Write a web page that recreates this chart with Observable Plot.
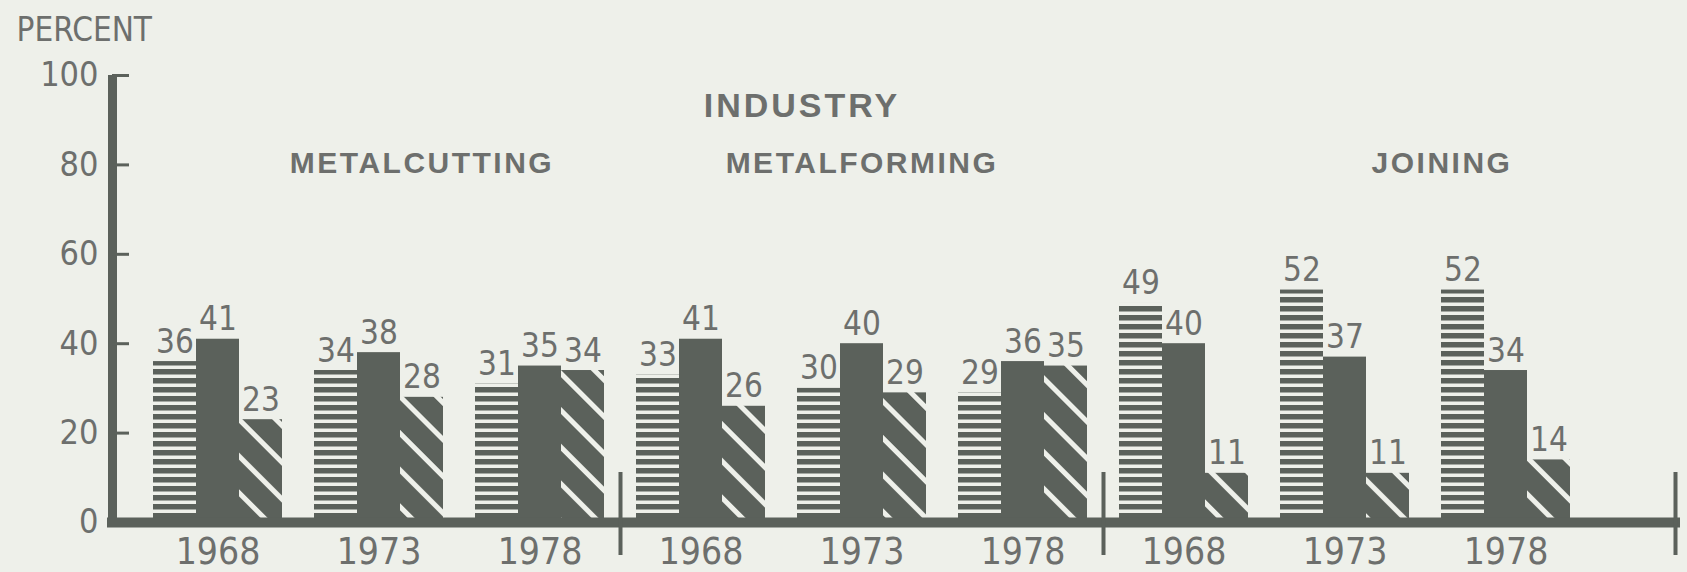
<!DOCTYPE html>
<html>
<head>
<meta charset="utf-8">
<script src="https://cdn.jsdelivr.net/npm/d3@7"></script>
<script src="https://cdn.jsdelivr.net/npm/@observablehq/plot@0.6"></script>
<style>
  html, body { margin: 0; padding: 0; background: #eef0ea; }
  #chart svg { display: block; }
</style>
</head>
<body>
<div id="chart"></div>
<script>
// ---- data ----
const industries = ["METALCUTTING", "METALFORMING", "JOINING"];
const years = ["1968", "1973", "1978"];
const seriesKeys = ["striped", "solid", "hatched"];
// values listed industry by industry, year by year
const valuesStriped = [36, 34, 31, 33, 30, 29, 49, 52, 52];
const valuesSolid   = [41, 38, 35, 41, 40, 36, 40, 37, 34];
const valuesHatched = [23, 28, 34, 26, 29, 35, 11, 11, 14];
const yTicks = [0, 20, 40, 60, 80, 100];
const titleText = "INDUSTRY";
const yLabelText = "PERCENT";

// ---- styles ----
const bg = "#eef0ea", ink = "#5b615b", textInk = "#6d6f6d";
const narrow = '"Liberation Sans Narrow", "DejaVu Sans Condensed", "Liberation Sans", sans-serif';
const boldFont = '"Liberation Sans", Arial, sans-serif';
const W = 1687, H = 572, mL = 112, mR = 12, mT = 75, mB = 50;
const headingShift = {METALCUTTING: 43, METALFORMING: 0, JOINING: 97};
const fills = ["url(#hstripe)", ink, "url(#dhatch)"];

const seriesValues = [valuesStriped, valuesSolid, valuesHatched];
const rows = [];
industries.forEach((ind, i) => years.forEach((yr, j) => {
  seriesValues.forEach((arr, k) => rows.push({
    industry: ind, year: yr, group: ind + "|" + yr, series: seriesKeys[k], value: arr[i * 3 + j]
  }));
}));
const groups = industries.flatMap(ind => years.map(yr => ind + "|" + yr));

function build(geo) {
  const {bw = 0, step = 0, first = 0, last = 0} = geo || {};
  const w = bw / 3, gap = step - bw;
  const marks = [];
  seriesKeys.forEach((s, k) => {
    marks.push(Plot.barY(rows.filter(d => d.series === s), {
      x: "group", y: "value", fill: fills[k],
      insetLeft: k * w, insetRight: (2 - k) * w
    }));
  });
  // baseline
  marks.push(Plot.ruleY([0], {stroke: ink, strokeWidth: 10, strokeLinecap: "square"}));
  // vertical axis line at the frame's left edge
  marks.push(Plot.ruleX([groups[0]], {x: d => d, dx: geo ? mL - (first + bw / 2) : 0, stroke: ink, strokeWidth: 9}));
  // y tick marks (inside)
  marks.push(Plot.tickY(yTicks.filter(v => v > 0), {y: d => d, stroke: ink, strokeWidth: 3, insetRight: (W - mL - mR) - 17}));
  // industry dividers
  marks.push(Plot.ruleX(groups.filter((g, i) => i > 0 && g.endsWith("|" + years[0])), {
    x: d => d, dx: -(bw / 2 + gap / 2), stroke: ink, strokeWidth: 4,
    insetTop: 472 - mT, insetBottom: -33
  }));
  marks.push(Plot.ruleX([groups[groups.length - 1]], {
    x: d => d, dx: geo ? (W - mR) - (last + bw / 2) : 0, stroke: ink, strokeWidth: 4,
    insetTop: 472 - mT, insetBottom: -33
  }));
  // value labels
  seriesKeys.forEach((s, k) => {
    marks.push(Plot.text(rows.filter(d => d.series === s), {
      x: "group", y: "value", text: d => String(d.value),
      dx: (k - 1) * w, dy: -9, lineAnchor: "bottom",
      fontSize: 33, fontFamily: narrow, fill: textInk
    }));
  });
  // y tick labels
  marks.push(Plot.text(yTicks, {
    y: d => d, text: d => String(d), frameAnchor: "left", textAnchor: "end",
    dx: -14, fontSize: 34, fontFamily: narrow, fill: textInk
  }));
  // year labels
  marks.push(Plot.text(groups, {
    x: d => d, text: d => d.split("|")[1], frameAnchor: "bottom", lineAnchor: "top",
    dy: 15, fontSize: 37, fontFamily: narrow, fill: textInk
  }));
  // y label
  marks.push(Plot.text([yLabelText], {
    text: d => d, frameAnchor: "top-left", textAnchor: "start", lineAnchor: "bottom",
    dx: -96, dy: -35, fontSize: 33, fontFamily: narrow, fill: textInk
  }));
  // title
  marks.push(Plot.text([titleText], {
    x: () => industries[1] + "|" + years[1], text: d => d, frameAnchor: "top",
    lineAnchor: "bottom", dy: 41, dx: -60, fontSize: 34, fontWeight: "bold",
    fontFamily: boldFont, fill: textInk
  }));
  // industry headings
  industries.forEach(ind => {
    marks.push(Plot.text([ind], {
      x: d => d + "|" + years[1], text: d => d, frameAnchor: "top",
      lineAnchor: "bottom", dy: 97, dx: headingShift[ind], fontSize: 30, fontWeight: "bold",
      fontFamily: boldFont, fill: textInk
    }));
  });

  return Plot.plot({
    width: W, height: H,
    marginLeft: mL, marginRight: mR, marginTop: mT, marginBottom: mB,
    style: {background: bg, color: textInk, fontFamily: narrow, overflow: "visible"},
    x: {domain: groups, paddingInner: 0.2017, paddingOuter: 0.437, align: 0.283, axis: null},
    y: {domain: [0, 100], axis: null},
    marks
  });
}

const p0 = build(null);
const xs = p0.scale("x");
const geo = {
  bw: xs.bandwidth,
  step: xs.apply(groups[1]) - xs.apply(groups[0]),
  first: xs.apply(groups[0]),
  last: xs.apply(groups[groups.length - 1])
};
const chart = build(geo);

const defs = d3.select(chart).insert("defs", ":first-child");
defs.html(`
  <pattern id="hstripe" patternUnits="userSpaceOnUse" width="10" height="9">
    <rect width="10" height="9" fill="${bg}"/>
    <rect y="0" width="10" height="5.5" fill="${ink}"/>
  </pattern>
  <pattern id="dhatch" patternUnits="userSpaceOnUse" width="26" height="26" patternTransform="rotate(-45)">
    <rect width="26" height="26" fill="${ink}"/>
    <rect x="0" width="5" height="26" fill="${bg}"/>
  </pattern>
`);
d3.select(chart).selectAll("text").each(function() {
  const t = this.textContent;
  if (t === titleText) d3.select(this).attr("letter-spacing", 3);
  else if (industries.includes(t)) d3.select(this).attr("letter-spacing", 2.5);
});

document.getElementById("chart").appendChild(chart);
</script>
</body>
</html>
